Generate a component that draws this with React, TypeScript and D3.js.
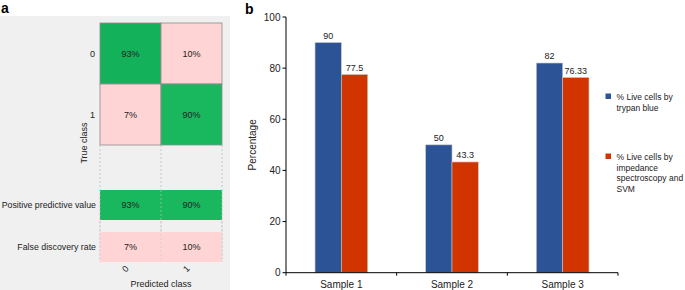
import React from "react";
import * as d3 from "d3";

const samples = ["Sample 1", "Sample 2", "Sample 3"];
const trypan = [90, 50, 82];
const impedance = [77.5, 43.3, 76.33];
const trypanLabels = ["90", "50", "82"];
const impedanceLabels = ["77.5", "43.3", "76.33"];
const yTicks = [0, 20, 40, 60, 80, 100];
const legendLabels = [
  ["% Live cells by", "trypan blue"],
  ["% Live cells by", "impedance", "spectroscopy and", "SVM"],
];

const classes = ["0", "1"];
const confusion = [
  [93, 10],
  [7, 90],
];
const ppv = [93, 90];
const fdr = [7, 10];
const summaryRows = ["Positive predictive value", "False discovery rate"];

const FONT = "Liberation Sans, Arial, Helvetica, sans-serif";
const GREEN_A = "#13b15a";
const GREEN_B = "#19b85f";
const PINK = "#ffd4d4";
const BLUE = "#2c5396";
const RED = "#d23400";

export default function App() {
  // Panel a
  const mx = d3.scaleBand().domain(classes).range([100, 222]);
  const my = d3.scaleBand().domain(classes).range([23, 145]);
  const sy = d3.scaleOrdinal<string, [number, number]>().domain(summaryRows).range([
    [190, 220],
    [232, 262],
  ]);
  const cellColor = (r: number, c: number) => (r === c ? (r === 0 ? GREEN_A : GREEN_B) : PINK);

  // Panel b
  const x = d3.scaleBand().domain(samples).range([286, 618]);
  const inner = d3.scaleBand().domain(["t", "i"]).range([0, 52.6]);
  const y = d3.scaleLinear().domain([0, 100]).range([272.7, 17]);
  const series = [
    { key: "t", values: trypan, labels: trypanLabels, color: BLUE },
    { key: "i", values: impedance, labels: impedanceLabels, color: RED },
  ];

  return (
    <svg width={685} height={290} style={{ position: "absolute", left: 0, top: 0 }} fontFamily={FONT}>
      <rect x={0} y={0} width={685} height={290} fill="#fff" />
      {/* Panel a */}
      <text x={1} y={13} fontSize={14} fontWeight="bold">a</text>
      <rect x={0} y={16} width={230} height={274} fill="#f0f0f0" />
      {confusion.map((row, r) =>
        row.map((v, c) => (
          <g key={`c${r}${c}`}>
            <rect
              x={mx(classes[c])!}
              y={my(classes[r])!}
              width={mx.bandwidth()}
              height={my.bandwidth()}
              fill={cellColor(r, c)}
              stroke="#8c8c8c"
              strokeWidth={0.8}
            />
            <text
              x={mx(classes[c])! + mx.bandwidth() / 2}
              y={my(classes[r])! + my.bandwidth() / 2 + 3.2}
              textAnchor="middle"
              fontSize={9}
              fill="#222"
            >
              {v}%
            </text>
          </g>
        ))
      )}
      {[100, 161, 222].map((lx) => (
        <line key={lx} x1={lx} x2={lx} y1={145} y2={262} stroke="#bdbdbd" strokeWidth={0.8} strokeDasharray="2,2" />
      ))}
      {[ppv, fdr].map((vals, r) =>
        vals.map((v, c) => {
          const [y0, y1] = sy(summaryRows[r]);
          return (
            <g key={`s${r}${c}`}>
              <rect x={mx(classes[c])!} y={y0} width={mx.bandwidth()} height={y1 - y0} fill={r === 0 ? GREEN_B : PINK} />
              <text
                x={mx(classes[c])! + mx.bandwidth() / 2}
                y={(y0 + y1) / 2 + 3.2}
                textAnchor="middle"
                fontSize={9}
                fill="#222"
              >
                {v}%
              </text>
            </g>
          );
        })
      )}
      {[100, 161, 222].map((lx) => (
        <line key={`o${lx}`} x1={lx} x2={lx} y1={190} y2={262} stroke="#c8c8c8" strokeWidth={0.6} strokeDasharray="2,2" />
      ))}
      {classes.map((cl) => (
        <text key={`rl${cl}`} x={95} y={my(cl)! + my.bandwidth() / 2 + 3.2} textAnchor="end" fontSize={9} fill="#222">
          {cl}
        </text>
      ))}
      {summaryRows.map((s) => {
        const [y0, y1] = sy(s);
        return (
          <text key={s} x={96} y={(y0 + y1) / 2 + 3.2} textAnchor="end" fontSize={8.8} fill="#222">
            {s}
          </text>
        );
      })}
      <text transform="translate(87,143) rotate(-90)" textAnchor="middle" fontSize={9} fill="#222">
        True class
      </text>
      {classes.map((cl) => (
        <text
          key={`cl${cl}`}
          transform={`translate(${mx(cl)! + mx.bandwidth() / 2 - 3},271) rotate(-45)`}
          textAnchor="middle"
          fontSize={9}
          fill="#222"
        >
          {cl}
        </text>
      ))}
      <text x={161} y={287} textAnchor="middle" fontSize={9} fill="#222">
        Predicted class
      </text>

      {/* Panel b */}
      <text x={245} y={14} fontSize={14} fontWeight="bold">b</text>
      {samples.map((s, i) => (
        <g key={s} transform={`translate(${x(s)! + (x.bandwidth() - 52.6) / 2},0)`}>
          {series.map((se) => (
            <g key={se.key}>
              <rect
                x={inner(se.key)!}
                y={y(se.values[i])}
                width={inner.bandwidth()}
                height={y(0) - y(se.values[i])}
                fill={se.color}
                stroke="#c4c4c4"
                strokeWidth={0.6}
              />
              <text
                x={inner(se.key)! + inner.bandwidth() / 2}
                y={y(se.values[i]) - 4}
                textAnchor="middle"
                fontSize={9}
                fill="#222"
              >
                {se.labels[i]}
              </text>
            </g>
          ))}
        </g>
      ))}
      {/* y axis */}
      <line x1={286} x2={286} y1={y(100)} y2={y(0)} stroke="#000" strokeWidth={1} />
      {yTicks.map((t) => (
        <g key={t}>
          <line x1={282.5} x2={286} y1={y(t)} y2={y(t)} stroke="#000" strokeWidth={1} />
          <text x={280.5} y={y(t) + 3.5} textAnchor="end" fontSize={10} fill="#222">
            {t}
          </text>
        </g>
      ))}
      <text transform={`translate(256,${(y(0) + y(100)) / 2}) rotate(-90)`} textAnchor="middle" fontSize={10} fill="#222">
        Percentage
      </text>
      {/* x axis */}
      <line x1={286} x2={618} y1={y(0)} y2={y(0)} stroke="#000" strokeWidth={1} />
      {[...samples.map((s) => x(s)!), 618].map((tx, i) => (
        <line key={i} x1={tx} x2={tx} y1={y(0)} y2={y(0) + 3} stroke="#000" strokeWidth={1} />
      ))}
      {samples.map((s) => (
        <text key={`xl${s}`} x={x(s)! + x.bandwidth() / 2} y={288} textAnchor="middle" fontSize={10} fill="#222">
          {s}
        </text>
      ))}
      {/* legend */}
      {legendLabels.map((lines, li) => {
        const top = li === 0 ? 93.5 : 153.5;
        return (
          <g key={li}>
            <rect x={605.5} y={top} width={5.5} height={5.5} fill={series[li].color} />
            {lines.map((ln, k) => (
              <text key={k} x={616.5} y={top + 6.5 + k * 10.7} fontSize={8.5} fill="#222">
                {ln}
              </text>
            ))}
          </g>
        );
      })}
    </svg>
  );
}
